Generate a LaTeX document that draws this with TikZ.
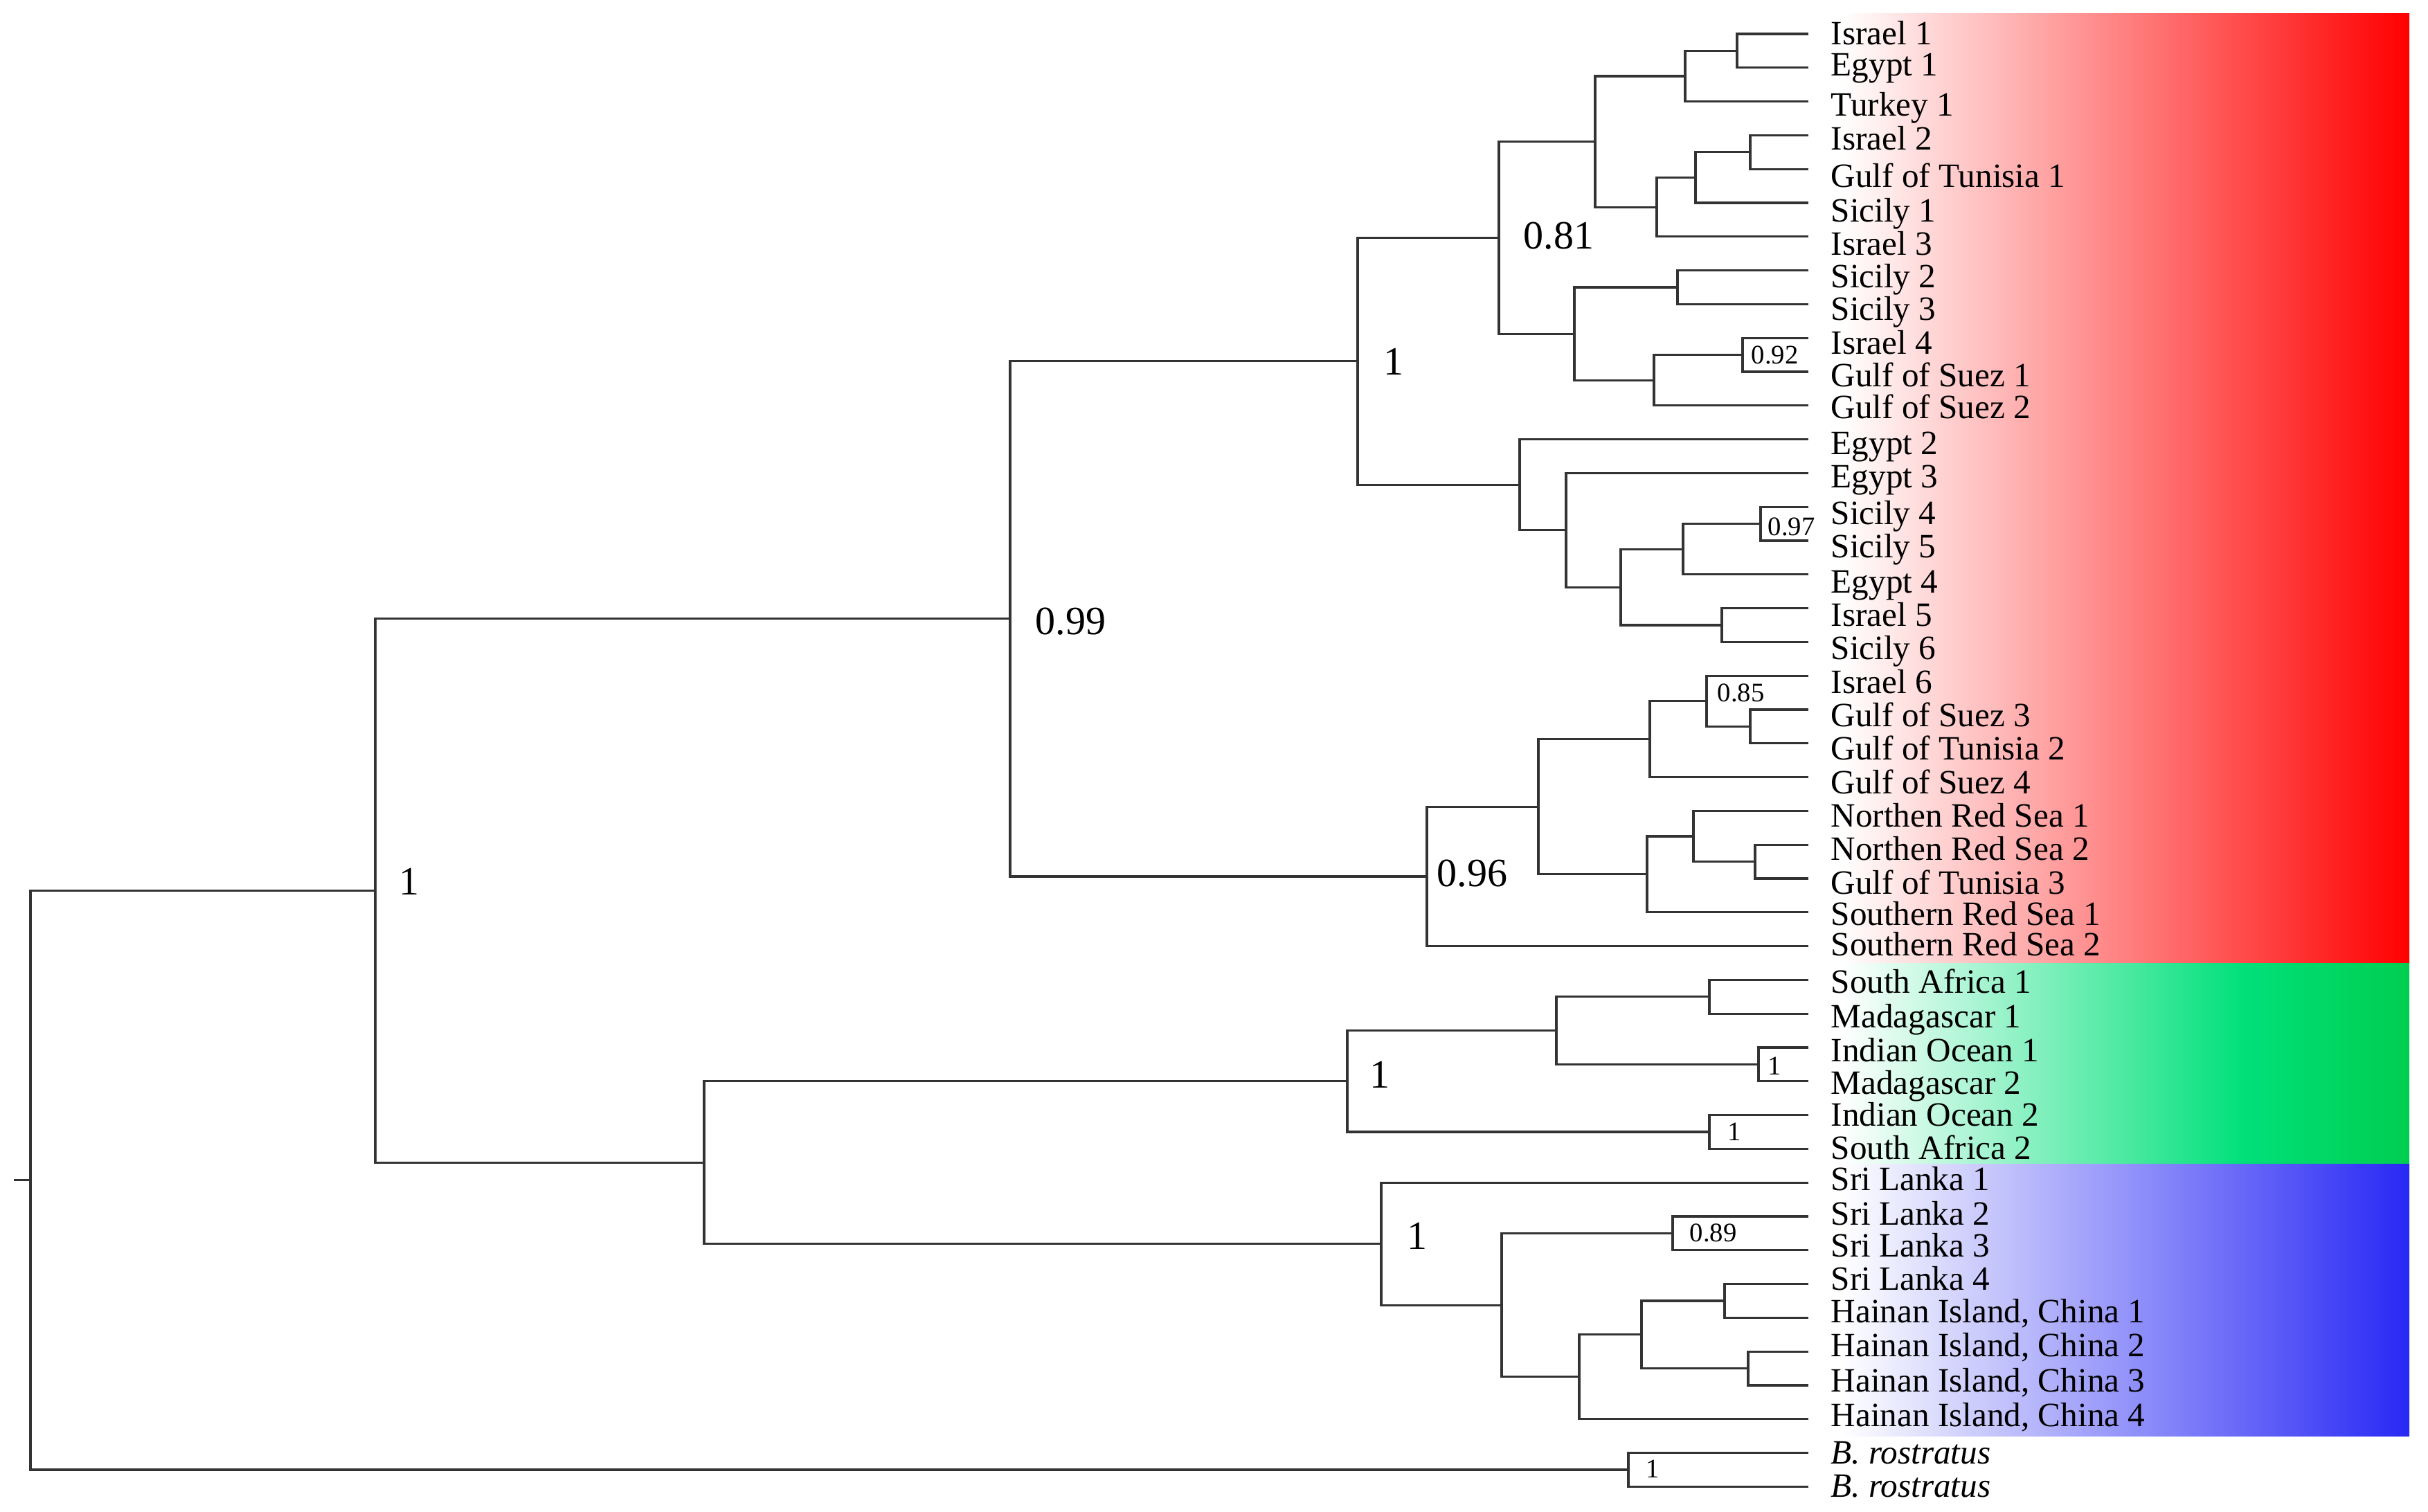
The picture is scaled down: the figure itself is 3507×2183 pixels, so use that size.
\documentclass[tikz,border=0pt]{standalone}
\usepackage{fontspec}
\setmainfont{Liberation Serif}
\usetikzlibrary{calc,positioning}

\definecolor{redend}{RGB}{255,0,0}
\definecolor{greenmid}{RGB}{0,224,122}
\definecolor{greenend}{RGB}{0,206,80}
\definecolor{blueend}{RGB}{40,40,245}

\tikzset{
  branch/.style={line width=0.9pt, black!80},
  taxon/.style={anchor=base west, inner sep=0pt, font=\fontsize{14}{16}\selectfont},
  support/.style={anchor=west, inner sep=0pt, font=\fontsize{16.5}{18}\selectfont},
  smallsupport/.style={anchor=west, inner sep=0pt, font=\fontsize{11}{12}\selectfont},
}

\begin{document}
\begin{tikzpicture}[x=0.1mm, y=-0.1mm]
  \useasboundingbox (0,0) rectangle (3507,2183);
  % Dimensions (in pixels of the original figure)
  \def\tipx{2612}   % x of the branch tips
  \def\labx{2644}   % x where the taxon labels start
  \def\ytop{49}     % y of the first tip
  \def\dy{48.8}     % spacing between tips
  \def\bandl{2660}  % left end of the coloured bands
  \def\bandr{3480}  % right end of the coloured bands

  % Coloured bands behind the labels
  \shade[left color=white, right color=redend] (\bandl,19) rectangle (\bandr,1391);
  \shade[left color=white, right color=greenmid] (\bandl,1391) rectangle (3241,1681);
  \shade[left color=greenmid, right color=greenend] (3240,1391) rectangle (\bandr,1681);
  \shade[left color=white, right color=blueend] (\bandl,1681) rectangle (\bandr,2074);

  % Tips: name/index/baseline/label
  \foreach \nm/\i/\base/\lab in {
      isr1/0/64/Israel 1, egy1/1/109/Egypt 1, tur1/2/167/Turkey 1,
      isr2/3/216/Israel 2, got1/4/270/Gulf of Tunisia 1, sic1/5/320/Sicily 1,
      isr3/6/368/Israel 3, sic2/7/415/Sicily 2, sic3/8/462/Sicily 3,
      isr4/9/511/Israel 4, gos1/10/558/Gulf of Suez 1, gos2/11/604/Gulf of Suez 2,
      egy2/12/656/Egypt 2, egy3/13/704/Egypt 3, sic4/14/757/Sicily 4,
      sic5/15/805/Sicily 5, egy4/16/856/Egypt 4, isr5/17/904/Israel 5,
      sic6/18/952/Sicily 6, isr6/19/1001/Israel 6, gos3/20/1049/Gulf of Suez 3,
      got2/21/1097/Gulf of Tunisia 2, gos4/22/1146/Gulf of Suez 4,
      nrs1/23/1194/Northen Red Sea 1, nrs2/24/1242/Northen Red Sea 2,
      got3/25/1291/Gulf of Tunisia 3, srs1/26/1336/Southern Red Sea 1,
      srs2/27/1380/Southern Red Sea 2,
      saf1/28/1434/South Africa 1, mad1/29/1484/Madagascar 1,
      ioc1/30/1533/Indian Ocean 1, mad2/31/1580/Madagascar 2,
      ioc2/32/1626/Indian Ocean 2, saf2/33/1674/South Africa 2,
      sri1/34/1719/Sri Lanka 1, sri2/35/1769/Sri Lanka 2,
      sri3/36/1815/Sri Lanka 3, sri4/37/1863/Sri Lanka 4,
      hai1/38/1910/{Hainan Island, China 1}, hai2/39/1959/{Hainan Island, China 2},
      hai3/40/2010/{Hainan Island, China 3}, hai4/41/2060/{Hainan Island, China 4},
      bro1/42/2114/\textit{B. rostratus}, bro2/43/2162/\textit{B. rostratus}} {
    \coordinate (\nm) at (\tipx,{\ytop+\dy*\i});
    \node[taxon] (\nm-lab) at (\labx,\base) {\lab};
  }

  % Clades, children first: name/x/upper child/lower child
  \foreach \nm/\cx/\ca/\cb in {
      c1/2509/isr1/egy1, c2/2434/c1/tur1, c3/2528/isr2/got1, c4/2449/c3/sic1,
      c5/2393/c4/isr3, c6/2304/c2/c5, c7/2423/sic2/sic3, c8/2517/isr4/gos1,
      c9/2389/c8/gos2, c10/2274/c7/c9, c11/2165/c6/c10,
      c12/2543/sic4/sic5, c13/2431/c12/egy4, c14/2487/isr5/sic6,
      c15/2341/c13/c14, c16/2262/egy3/c15, c17/2195/egy2/c16, c18/1961/c11/c17,
      c19/2528/gos3/got2, c20/2465/isr6/c19, c21/2383/c20/gos4,
      c22/2535/nrs2/got3, c23/2446/nrs1/c22, c24/2379/c23/srs1,
      c25/2222/c21/c24, c26/2061/c25/srs2, c27/1459/c18/c26,
      g1/2469/saf1/mad1, g2/2540/ioc1/mad2, g3/2248/g1/g2,
      g4/2469/ioc2/saf2, g5/1946/g3/g4,
      b1/2416/sri2/sri3, b2/2491/sri4/hai1, b3/2525/hai2/hai3,
      b4/2371/b2/b3, b5/2281/b4/hai4, b6/2169/b1/b5, b7/1995/sri1/b6,
      b8/1017/g5/b7, c28/542/c27/b8, o1/2352/bro1/bro2, root/44/c28/o1} {
    \path let \p1=($(\ca)!0.5!(\cb)$), \p2=(\cx,0) in coordinate (\nm) at (\x2,\y1);
    \draw[branch] (\ca) -| (\nm) |- (\cb);
  }
  % root stub
  \coordinate (stub) at ($(root)+(-24,0)$);
  \draw[branch] (stub) -- (root);

  % Posterior probabilities, large
  \foreach \nm/\px/\py/\v in {
      c18/1998/522/1, c11/2200/341/0.81, c27/1495/898/0.99, c28/576/1273/1,
      c26/2075/1262/0.96, g5/1978/1552/1, b7/2032/1785/1} {
    \node[support] (pp-\nm) at (\px,\py) {\v};
  }
  % Posterior probabilities, small
  \foreach \nm/\px/\py/\v in {
      c8/2529/513/0.92, c12/2553/761/0.97, c20/2480/1001/0.85,
      g2/2553/1540/1, g4/2495/1635/1, b1/2440/1781/0.89, o1/2377/2122/1} {
    \node[smallsupport] (pp-\nm) at (\px,\py) {\v};
  }
\end{tikzpicture}
\end{document}
